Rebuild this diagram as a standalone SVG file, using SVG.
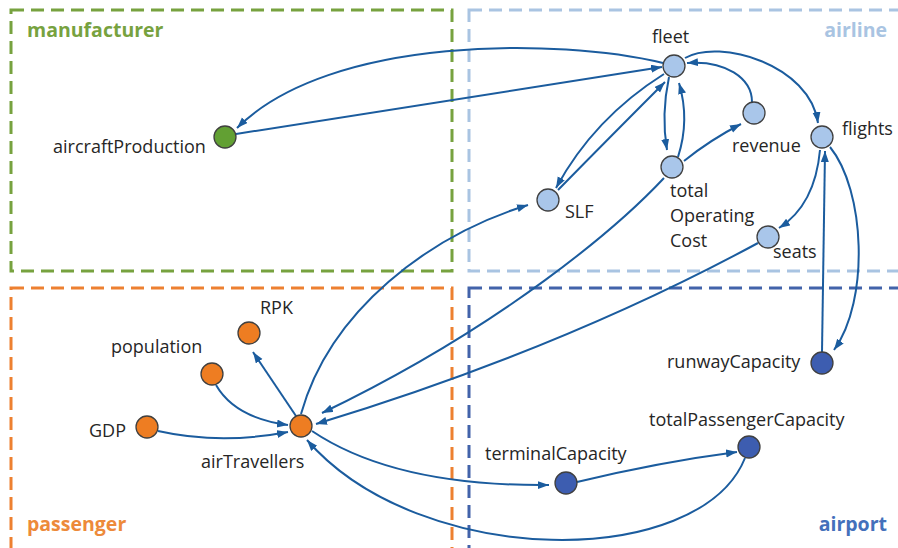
<svg xmlns="http://www.w3.org/2000/svg" width="898" height="548" viewBox="0 0 898 548">
<style>
.box{fill:none;stroke-width:3;stroke-dasharray:13 7}
.glabel{font-family:"Open Sans",sans-serif;font-weight:bold;font-size:19.5px}
.lbl{font-family:"Open Sans",sans-serif;font-size:18px;fill:#262626}
.node{stroke:#404040;stroke-width:1.3}
.edge{fill:none;stroke:#1b5c9e;stroke-width:2;marker-end:url(#arr)}
</style>
<defs>
<marker id="arr" markerUnits="userSpaceOnUse" markerWidth="12" markerHeight="10" refX="11" refY="4" orient="auto">
<path d="M0,0 L11,4 L0,8 z" fill="#1b5c9e"/>
</marker>
</defs>
<rect width="898" height="548" fill="#ffffff"/>
<g id="groups">
<rect class="box" x="11" y="10" width="441" height="261" stroke="#77a23f"/>
<rect class="box" x="469" y="10" width="445" height="261" stroke="#a9c4e2"/>
<rect class="box" x="11" y="288" width="441" height="270" stroke="#ed8030"/>
<rect class="box" x="469" y="288" width="445" height="270" stroke="#4263aa"/>
<text class="glabel" x="27" y="37" fill="#77a23f">manufacturer</text>
<text class="glabel" x="887" y="37" text-anchor="end" fill="#a9c4e2">airline</text>
<text class="glabel" x="27" y="531" fill="#ed8a3a">passenger</text>
<text class="glabel" x="887" y="531" text-anchor="end" fill="#4470bb">airport</text>
</g>
<g id="connectors">
<path class="edge" d="M236,134 Q450,100 662,67"/>
<path class="edge" d="M663,63 C560,38 330,35 237,128"/>
<path class="edge" d="M664,74 Q594,118 556,188"/>
<path class="edge" d="M558,190 Q613,134 665,82"/>
<path class="edge" d="M669,77 Q661,115 667,150"/>
<path class="edge" d="M678,157 Q690,120 679,83"/>
<path class="edge" d="M684,161 Q710,140 741,124"/>
<path class="edge" d="M752,102 C752,78 725,60 687,63"/>
<path class="edge" d="M685,58 C720,38 810,65 818,123"/>
<path class="edge" d="M820,150 Q815,205 779,228"/>
<path class="edge" d="M822,352 L825,151"/>
<path class="edge" d="M830,147 C865,190 870,300 834,350"/>
<path class="edge" d="M758,243 Q560,350 316,424"/>
<path class="edge" d="M664,178 C620,225 505,325 322,413"/>
<path class="edge" d="M301,414 C330,310 430,235 528,205"/>
<path class="edge" d="M296,416 L253,352"/>
<path class="edge" d="M216,385 Q235,418 288,425"/>
<path class="edge" d="M158,431 Q220,445 288,432"/>
<path class="edge" d="M312,431 C370,470 450,486 549,485"/>
<path class="edge" d="M577,482 Q660,462 737,452"/>
<path class="edge" d="M745,458 C700,570 420,570 307,440"/>
</g>
<g id="aircraftProduction"><circle class="node" cx="225" cy="137" r="11" fill="#62a033"/><text class="lbl" x="53" y="153">aircraftProduction</text></g>
<g id="fleet"><circle class="node" cx="674" cy="66" r="11" fill="#a9c6ea"/><text class="lbl" x="652" y="43">fleet</text></g>
<g id="revenue"><circle class="node" cx="754" cy="113" r="11" fill="#a9c6ea"/><text class="lbl" x="732" y="152">revenue</text></g>
<g id="flights"><circle class="node" cx="822" cy="137" r="11" fill="#a9c6ea"/><text class="lbl" x="842" y="135">flights</text></g>
<g id="totalOperatingCost"><circle class="node" cx="672" cy="167" r="11" fill="#a9c6ea"/><text class="lbl" x="670" y="197">total</text><text class="lbl" x="670" y="222">Operating</text><text class="lbl" x="670" y="247">Cost</text></g>
<g id="SLF"><circle class="node" cx="548" cy="200" r="11" fill="#a9c6ea"/><text class="lbl" x="565" y="218">SLF</text></g>
<g id="seats"><circle class="node" cx="768" cy="237" r="11" fill="#a9c6ea"/><text class="lbl" x="773" y="258">seats</text></g>
<g id="RPK"><circle class="node" cx="249" cy="333" r="11" fill="#ee7d22"/><text class="lbl" x="260" y="314">RPK</text></g>
<g id="population"><circle class="node" cx="212" cy="374" r="11" fill="#ee7d22"/><text class="lbl" x="111" y="353">population</text></g>
<g id="GDP"><circle class="node" cx="147" cy="427" r="11" fill="#ee7d22"/><text class="lbl" x="89" y="437">GDP</text></g>
<g id="airTravellers"><circle class="node" cx="301" cy="426" r="11" fill="#ee7d22"/><text class="lbl" x="201" y="468">airTravellers</text></g>
<g id="runwayCapacity"><circle class="node" cx="822" cy="363" r="11" fill="#3d5db0"/><text class="lbl" x="667" y="368">runwayCapacity</text></g>
<g id="totalPassengerCapacity"><circle class="node" cx="749" cy="447" r="11" fill="#3d5db0"/><text class="lbl" x="649" y="426">totalPassengerCapacity</text></g>
<g id="terminalCapacity"><circle class="node" cx="566" cy="483" r="11" fill="#3d5db0"/><text class="lbl" x="485" y="460">terminalCapacity</text></g>
</svg>
